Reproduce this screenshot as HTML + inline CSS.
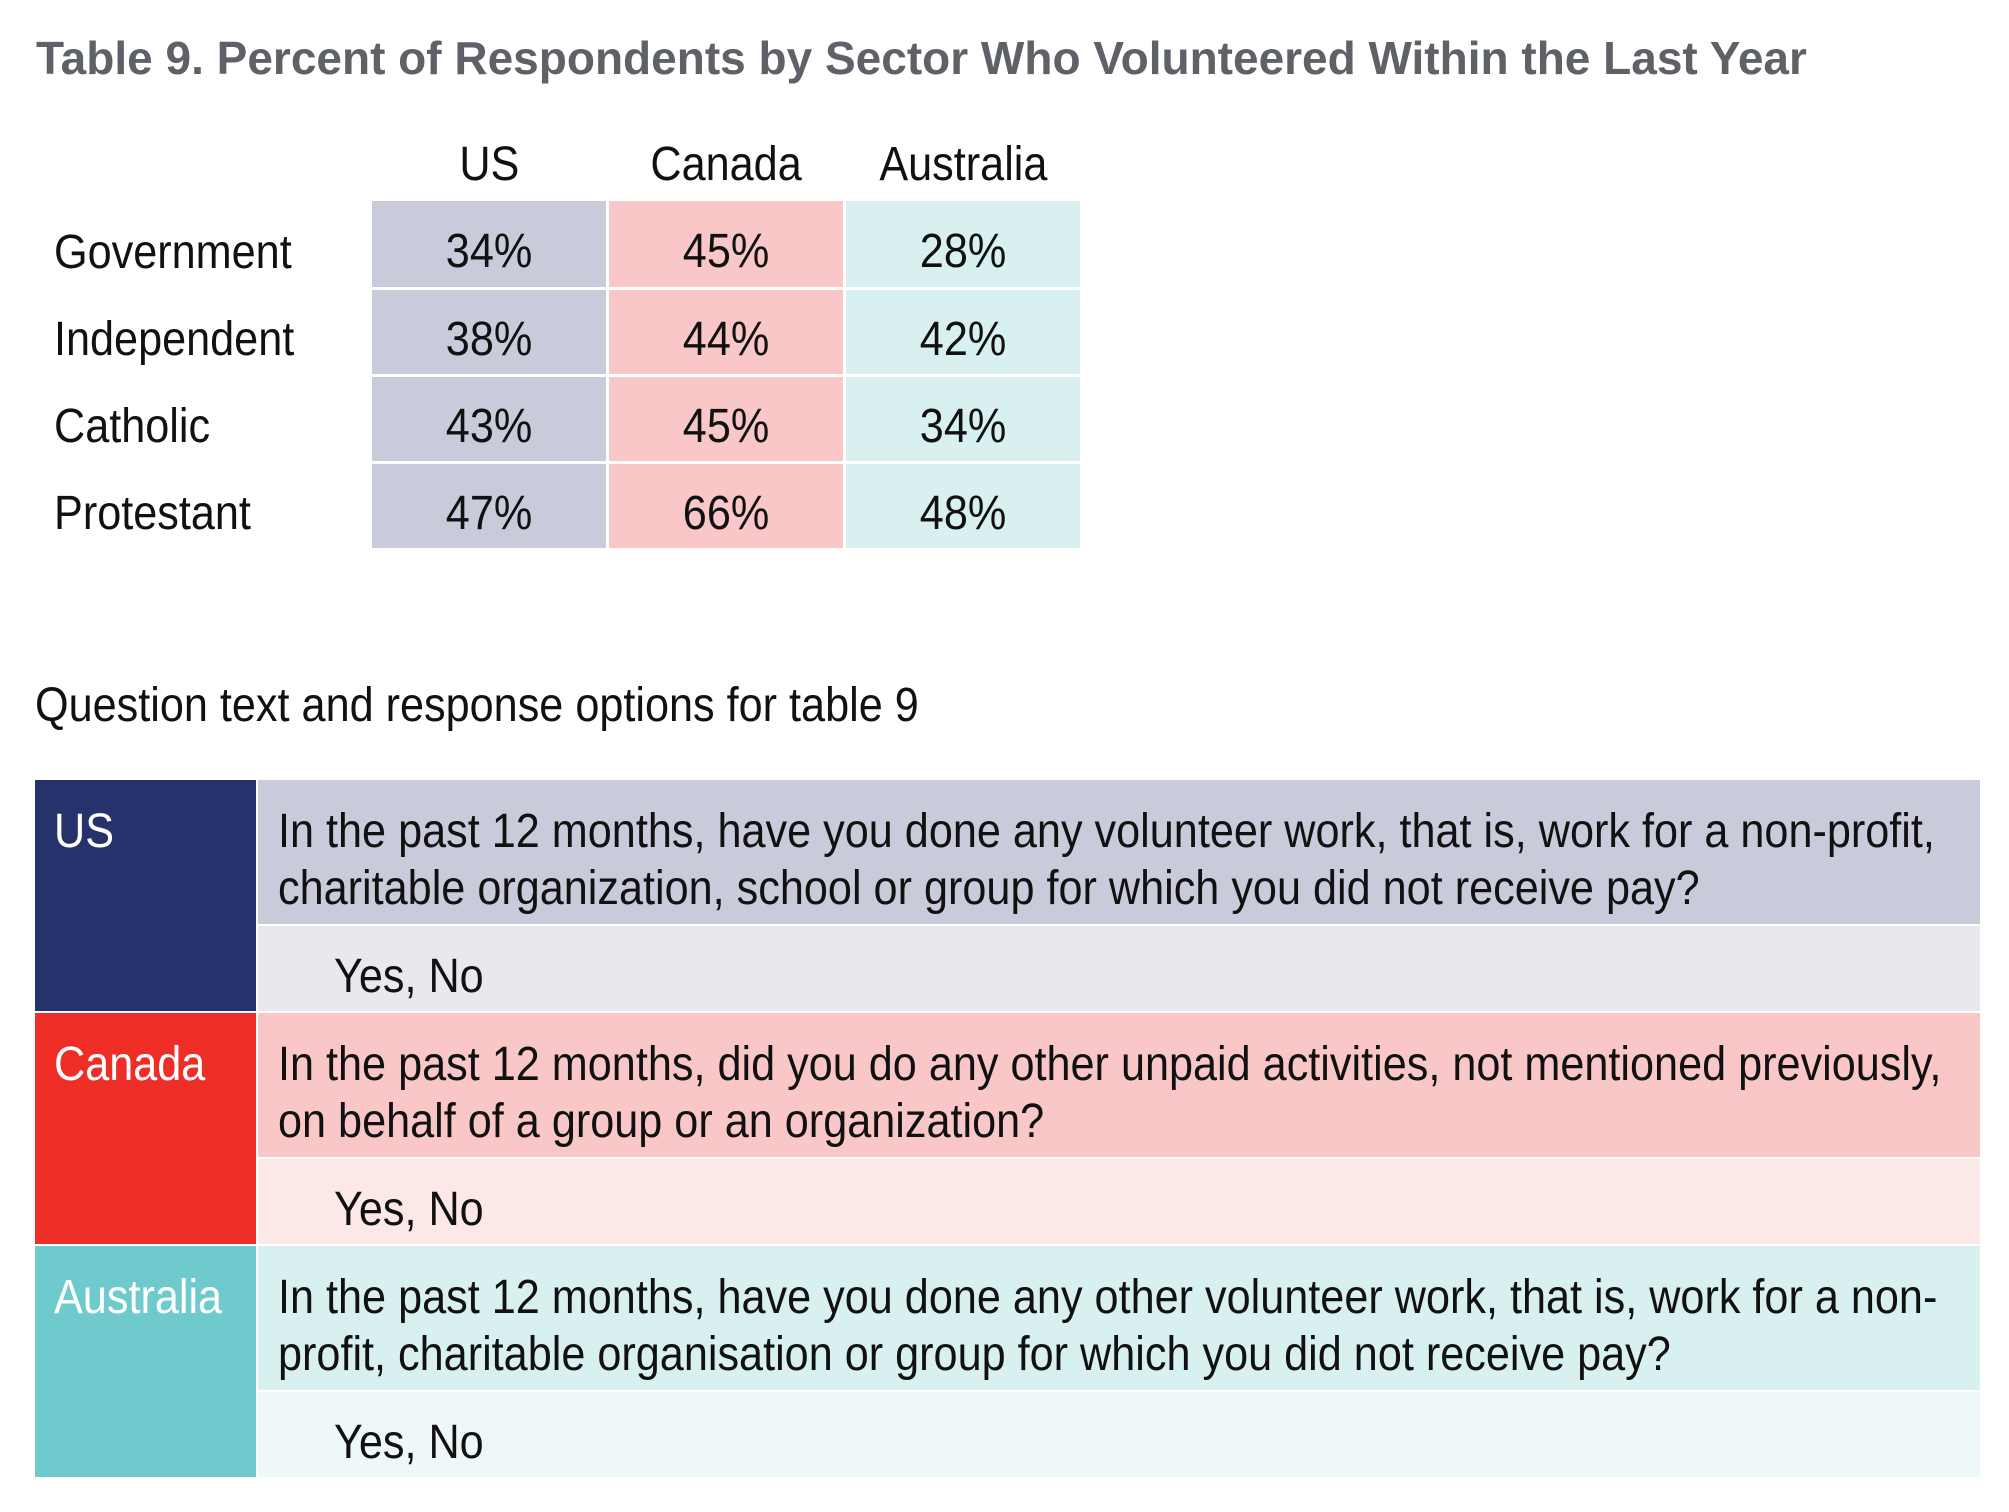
<!DOCTYPE html>
<html><head><meta charset="utf-8"><style>
body{margin:0;width:2009px;height:1512px;background:#fff;position:relative;overflow:hidden;font-family:"Liberation Sans",sans-serif;color:#111}
.a{position:absolute;white-space:nowrap}
.s{display:inline-block;transform-origin:0 50%;transform:scaleX(0.9)}
.t{font-size:48px;line-height:57px}
.b{position:absolute}
.cc{position:absolute;display:flex;align-items:center;justify-content:center;font-size:48px}
.cc span{display:inline-block;transform:scaleX(0.9)}
.n{padding-top:14px;box-sizing:border-box}
</style></head><body>
<div class="a" style="left:36px;top:30px;font-size:46px;font-weight:bold;color:#5e6168;line-height:56px"><span class="s" style="transform:scaleX(1.0)">Table 9. Percent of Respondents by Sector Who Volunteered Within the Last Year</span></div>

<div class="cc" style="left:372px;top:136px;width:234px;height:56px"><span>US</span></div>
<div class="cc" style="left:609px;top:136px;width:234px;height:56px"><span>Canada</span></div>
<div class="cc" style="left:846px;top:136px;width:234px;height:56px"><span>Australia</span></div>

<div class="b" style="left:372px;top:201px;width:234px;height:347px;background:#c9cbdb"></div>
<div class="b" style="left:609px;top:201px;width:234px;height:347px;background:#f9c7c7"></div>
<div class="b" style="left:846px;top:201px;width:234px;height:347px;background:#d9f0f0"></div>
<div class="b" style="left:372px;top:287px;width:708px;height:3px;background:#fff"></div>
<div class="b" style="left:372px;top:374px;width:708px;height:3px;background:#fff"></div>
<div class="b" style="left:372px;top:461px;width:708px;height:3px;background:#fff"></div>

<div class="a t" style="left:54px;top:224px"><span class="s">Government</span></div>
<div class="a t" style="left:54px;top:311px"><span class="s">Independent</span></div>
<div class="a t" style="left:54px;top:398px"><span class="s">Catholic</span></div>
<div class="a t" style="left:54px;top:485px"><span class="s">Protestant</span></div>

<div class="cc n" style="left:372px;top:201px;width:234px;height:86px"><span>34%</span></div>
<div class="cc n" style="left:609px;top:201px;width:234px;height:86px"><span>45%</span></div>
<div class="cc n" style="left:846px;top:201px;width:234px;height:86px"><span>28%</span></div>
<div class="cc n" style="left:372px;top:290px;width:234px;height:84px"><span>38%</span></div>
<div class="cc n" style="left:609px;top:290px;width:234px;height:84px"><span>44%</span></div>
<div class="cc n" style="left:846px;top:290px;width:234px;height:84px"><span>42%</span></div>
<div class="cc n" style="left:372px;top:377px;width:234px;height:84px"><span>43%</span></div>
<div class="cc n" style="left:609px;top:377px;width:234px;height:84px"><span>45%</span></div>
<div class="cc n" style="left:846px;top:377px;width:234px;height:84px"><span>34%</span></div>
<div class="cc n" style="left:372px;top:464px;width:234px;height:84px"><span>47%</span></div>
<div class="cc n" style="left:609px;top:464px;width:234px;height:84px"><span>66%</span></div>
<div class="cc n" style="left:846px;top:464px;width:234px;height:84px"><span>48%</span></div>

<div class="a t" style="left:35px;top:677px"><span class="s">Question text and response options for table 9</span></div>

<div class="b" style="left:35px;top:780px;width:221px;height:231px;background:#26326b"></div>
<div class="b" style="left:258px;top:780px;width:1722px;height:144px;background:#c9cbdb"></div>
<div class="b" style="left:258px;top:926px;width:1722px;height:85px;background:#e8e9ef"></div>
<div class="b" style="left:35px;top:1013px;width:221px;height:231px;background:#ee2e27"></div>
<div class="b" style="left:258px;top:1013px;width:1722px;height:144px;background:#f9c7c7"></div>
<div class="b" style="left:258px;top:1159px;width:1722px;height:85px;background:#fde8e8"></div>
<div class="b" style="left:35px;top:1246px;width:221px;height:231px;background:#6fcacd"></div>
<div class="b" style="left:258px;top:1246px;width:1722px;height:144px;background:#d9f0f0"></div>
<div class="b" style="left:258px;top:1392px;width:1722px;height:85px;background:#eef8f8"></div>

<div class="a t" style="left:54px;top:803px;color:#fff"><span class="s">US</span></div>
<div class="a t" style="left:54px;top:1036px;color:#fff"><span class="s">Canada</span></div>
<div class="a t" style="left:54px;top:1269px;color:#fff"><span class="s">Australia</span></div>

<div class="a t" style="left:278px;top:803px"><span class="s">In the past 12 months, have you done any volunteer work, that is, work for a non-profit,</span></div>
<div class="a t" style="left:278px;top:860px"><span class="s">charitable organization, school or group for which you did not receive pay?</span></div>
<div class="a t" style="left:334px;top:948px"><span class="s">Yes, No</span></div>

<div class="a t" style="left:278px;top:1036px"><span class="s">In the past 12 months, did you do any other unpaid activities, not mentioned previously,</span></div>
<div class="a t" style="left:278px;top:1093px"><span class="s">on behalf of a group or an organization?</span></div>
<div class="a t" style="left:334px;top:1181px"><span class="s">Yes, No</span></div>

<div class="a t" style="left:278px;top:1269px"><span class="s">In the past 12 months, have you done any other volunteer work, that is, work for a non-</span></div>
<div class="a t" style="left:278px;top:1326px"><span class="s">profit, charitable organisation or group for which you did not receive pay?</span></div>
<div class="a t" style="left:334px;top:1414px"><span class="s">Yes, No</span></div>
</body></html>
